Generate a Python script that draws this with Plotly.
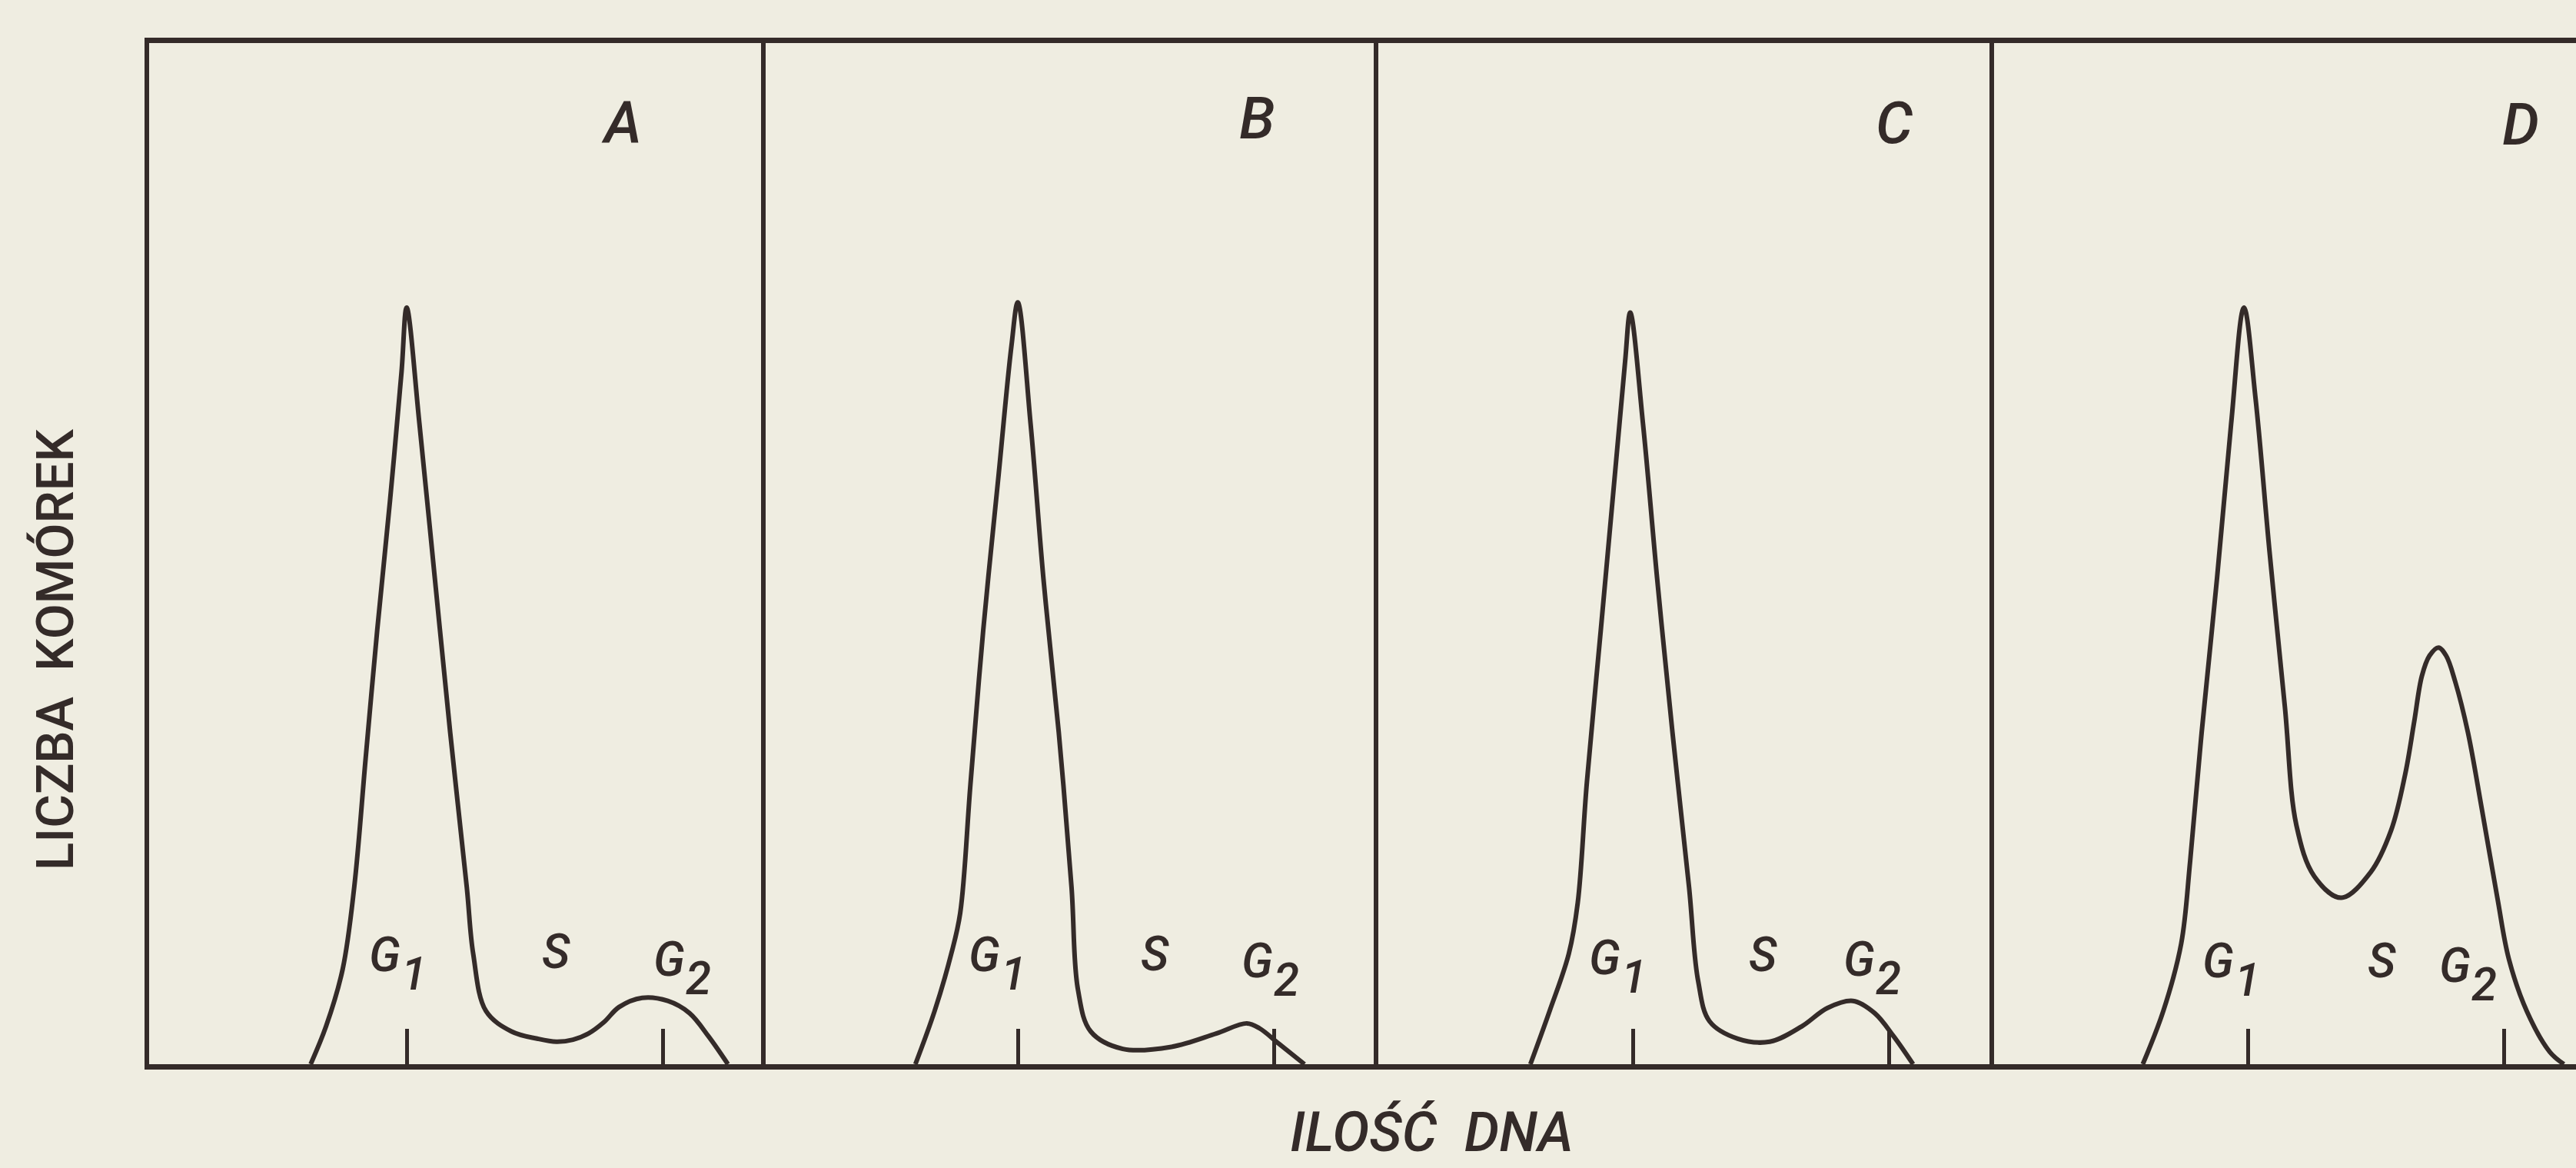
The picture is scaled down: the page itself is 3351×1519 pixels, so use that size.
import plotly.graph_objects as go

# DNA content (G1 = 2, G2 = 4) and relative cell counts, one histogram per panel
panels = ["A", "B", "C", "D"]

dna_A = [1.25, 1.37, 1.50, 1.59, 1.68, 1.77, 1.87, 1.96, 2.00, 2.10, 2.22, 2.34,
         2.47, 2.52, 2.62, 2.82, 3.02, 3.17, 3.30, 3.42, 3.54, 3.66, 3.84, 4.04,
         4.21, 4.36, 4.51]
cells_A = [0, 3.7, 9.3, 17.3, 30.0, 42.5, 55.2, 67.8, 74.1, 62.7, 47.6, 32.5,
           17.3, 10.8, 5.2, 3.2, 2.5, 2.2, 2.4, 3.0, 4.1, 5.6, 6.5, 6.2,
           5.0, 2.7, 0]

dna_B = [1.20, 1.35, 1.48, 1.55, 1.63, 1.73, 1.85, 1.95, 2.00, 2.10, 2.20, 2.32,
         2.42, 2.47, 2.57, 2.82, 3.20, 3.55, 3.79, 3.89, 4.04, 4.24]
cells_B = [0, 5.2, 10.8, 14.8, 27.4, 42.5, 57.7, 70.3, 74.6, 62.7, 47.6, 32.5,
           17.3, 7.3, 3.2, 1.5, 1.7, 3.0, 4.0, 3.5, 2.0, 0]

dna_C = [1.20, 1.35, 1.50, 1.57, 1.64, 1.75, 1.86, 1.94, 1.98, 2.08, 2.19, 2.31,
         2.44, 2.51, 2.60, 2.82, 3.07, 3.32, 3.52, 3.72, 3.89, 4.04, 4.19]
cells_C = [0, 5.2, 10.8, 15.8, 27.4, 42.5, 57.7, 68.8, 73.6, 62.7, 47.6, 32.5,
           17.3, 8.2, 4.2, 2.5, 2.2, 3.7, 5.5, 6.2, 5.0, 2.7, 0]

dna_D = [1.18, 1.34, 1.48, 1.55, 1.64, 1.76, 1.87, 1.97, 2.06, 2.17, 2.29, 2.38,
         2.52, 2.73, 2.96, 3.12, 3.23, 3.30, 3.36, 3.42, 3.49, 3.55, 3.62, 3.72,
         3.83, 3.95, 4.04, 4.18, 4.36, 4.47]
cells_D = [0, 5.2, 11.8, 19.9, 32.5, 47.6, 62.7, 74.1, 65.3, 50.2, 35.0, 23.4,
           18.4, 16.3, 18.8, 22.9, 28.4, 33.5, 38.0, 40.0, 40.8, 40.0, 37.5, 32.5,
           24.9, 16.3, 10.3, 5.2, 1.2, 0]

phase_ticks = [2, 4]
phase_names = ["G", "S", "G"]
phase_subs = ["1", "", "2"]

series = {"A": (dna_A, cells_A), "B": (dna_B, cells_B),
          "C": (dna_C, cells_C), "D": (dna_D, cells_D)}

# ---- layout constants (pixels of the 3351 x 1519 canvas) ----
W, H = 3351, 1519
INK = "#342b29"
PAPER = "#efede1"
FONT = "Roboto"
PX_PER_UNIT = 166.5
panel_left = {"A": 194, "B": 990, "C": 1787, "D": 2590}
panel_right = {"A": 990, "B": 1787, "C": 2588, "D": W}
g1_tick_px = {"A": 529, "B": 1324, "C": 2124, "D": 2924}
y_bottom_px, y_top_px = 1384, 56

# label placements in data units per panel: (x, y) of G1, S, G2 and of the panel letter
label_pos = {
    "A": [(1.83, 10.7), (3.17, 11.0), (4.05, 10.3)],
    "B": [(1.74, 10.7), (3.07, 10.8), (3.87, 10.1)],
    "C": [(1.78, 10.4), (3.02, 10.7), (3.77, 10.3)],
    "D": [(1.77, 10.1), (3.05, 10.1), (3.62, 9.7)],
}
letter_pos = {"A": (3.68, 92.2), "B": (3.87, 92.6), "C": (4.04, 92.2), "D": (4.13, 92.0)}

fig = go.Figure()
annotations = []

for i, p in enumerate(panels):
    n = "" if i == 0 else str(i + 1)
    xa, ya = "x" + n, "y" + n
    x, y = series[p]
    fig.add_trace(go.Scatter(
        x=x, y=y, xaxis=xa, yaxis=ya, mode="lines",
        line=dict(color=INK, width=6, shape="spline", smoothing=1.0),
        hoverinfo="skip", showlegend=False,
    ))

    x0 = 2 - (g1_tick_px[p] - panel_left[p]) / PX_PER_UNIT
    x1 = x0 + (panel_right[p] - panel_left[p]) / PX_PER_UNIT
    ydom = [1 - y_bottom_px / H, 1 - y_top_px / H]
    if p == "A":
        # outer left edge plus the first divider
        yax = dict(showline=True, mirror=True)
    elif p == "D":
        # left edge already drawn by panel C; right edge runs off the page
        yax = dict(showline=False)
    else:
        # each middle panel draws only its right-hand divider
        yax = dict(showline=True, side="right", mirror=False)
    yax.update(domain=ydom, range=[0, 100], linewidth=6, linecolor=INK,
               ticks="", showticklabels=False, showgrid=False, zeroline=False,
               anchor=xa, fixedrange=True)

    fig.update_layout(**{
        "xaxis" + n: dict(
            domain=[panel_left[p] / W, panel_right[p] / W], range=[x0, x1],
            showline=True, linewidth=7, linecolor=INK, mirror=True,
            ticks="inside", tickvals=phase_ticks, ticklen=46, tickwidth=5,
            tickcolor=INK, showticklabels=False, showgrid=False, zeroline=False,
            anchor=ya, fixedrange=True,
        ),
        "yaxis" + n: yax,
    })

    for (lx, ly), name, sub in zip(label_pos[p], phase_names, phase_subs):
        annotations.append(dict(
            x=lx, y=ly, xref=xa, yref=ya, text="<i>%s</i>" % name,
            showarrow=False, font=dict(family=FONT, size=62, color=INK, weight=500),
            xanchor="center", yanchor="middle",
        ))
        if sub:
            annotations.append(dict(
                x=lx, y=ly, xref=xa, yref=ya, text="<i>%s</i>" % sub,
                showarrow=False, font=dict(family=FONT, size=60, color=INK, weight=500),
                xanchor="center", yanchor="middle", xshift=38, yshift=-25,
            ))

    lx, ly = letter_pos[p]
    annotations.append(dict(
        x=lx, y=ly, xref=xa, yref=ya, text="<i>%s</i>" % p,
        showarrow=False, font=dict(family=FONT, size=76, color=INK, weight=500),
        xanchor="center", yanchor="middle",
    ))

# axis titles
annotations.append(dict(
    x=72 / W, y=1 - 845 / H, xref="paper", yref="paper",
    text="LICZBA\u00a0\u00a0KOMÓREK", textangle=-90, showarrow=False,
    font=dict(family=FONT, size=67, color=INK, weight=500),
    xanchor="center", yanchor="middle",
))
annotations.append(dict(
    x=1862 / W, y=0.001, xref="paper", yref="paper",
    text="<i>ILOŚĆ\u00a0\u00a0DNA</i>", showarrow=False,
    font=dict(family=FONT, size=72, color=INK, weight=500),
    xanchor="center", yanchor="bottom",
))

fig.update_layout(
    width=W, height=H, autosize=False,
    margin=dict(l=0, r=0, t=0, b=0, pad=0),
    paper_bgcolor=PAPER, plot_bgcolor=PAPER,
    showlegend=False, annotations=annotations,
)

fig.write_html("out.html")
